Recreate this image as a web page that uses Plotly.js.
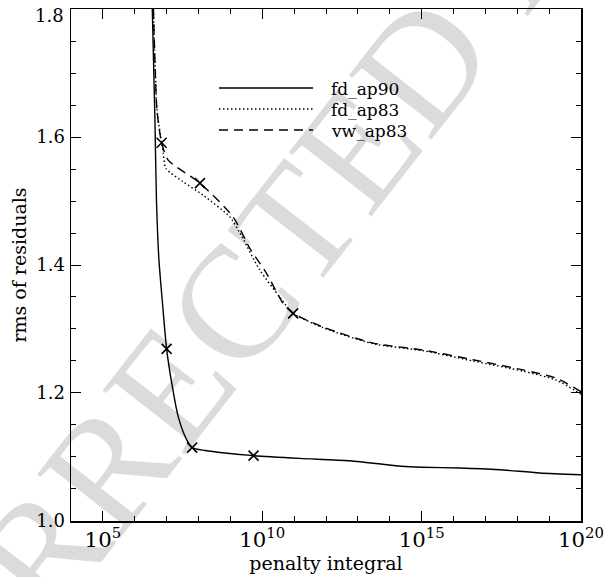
<!DOCTYPE html>
<html>
<head>
<meta charset="utf-8">
<script src="https://cdn.plot.ly/plotly-3.0.1.min.js"></script>
<style>html,body{margin:0;padding:0;background:#fff;}#chart{width:608px;height:577px;}</style>
</head>
<body>
<div id="chart"></div>
<script>
// fd_ap90 (solid)
const ap90X = [3.55e6, 4.30e6, 4.79e6, 5.74e6, 7.28e6, 1.0e7, 1.44e7, 2.31e7, 4.24e7, 6.31e7, 1.58e8, 4.69e8, 5.33e9, 1.51e11, 5.57e12, 2.33e14, 1e15, 1.58e16, 2.82e17, 5.0e18, 1e20];
const ap90Y = [1.8, 1.627, 1.502, 1.408, 1.345, 1.269, 1.216, 1.163, 1.127, 1.1145, 1.110, 1.107, 1.102, 1.0977, 1.094, 1.0855, 1.084, 1.0828, 1.080, 1.075, 1.0723];
// fd_ap83 (dotted)
const fd83X = [3.85e6, 4.30e6, 5.01e6, 6.97e6, 7.83e6, 9.51e6, 3.31e7, 1.40e8, 9.64e8, 1.99e9, 8.41e9, 3.56e10, 9.12e10, 8.11e11, 3.0e13, 1.11e15, 4.08e16, 1.51e18, 1.68e19, 1e20];
const fd83Y = [1.8, 1.72, 1.642, 1.591, 1.574, 1.551, 1.530, 1.509, 1.475, 1.450, 1.392, 1.350, 1.325, 1.302, 1.277, 1.266, 1.250, 1.234, 1.220, 1.198];
// vw_ap83 (dashed)
const vw83X = [3.85e6, 4.30e6, 4.97e6, 6.97e6, 1.12e7, 1.11e8, 1.22e9, 4.08e9, 1.36e10, 4.52e10, 9.31e10, 8.11e11, 3.0e13, 1.11e15, 4.08e16, 1.51e18, 1.68e19, 1e20];
const vw83Y = [1.8, 1.72, 1.642, 1.591, 1.564, 1.528, 1.475, 1.426, 1.387, 1.340, 1.3245, 1.303, 1.278, 1.267, 1.252, 1.236, 1.223, 1.202];
// cross markers
const markAp90X = [1.0e7, 6.31e7, 5.33e9];
const markAp90Y = [1.269, 1.1145, 1.102];
const markAp83X = [6.97e6, 1.11e8, 9.31e10];
const markAp83Y = [1.591, 1.528, 1.3245];

// y tick labels (top one drawn separately, nudged inside the page like the reference)
const yTickVals = [1.0, 1.2, 1.4, 1.6, 1.8];
const yTickText = ['1.0', '1.2', '1.4', '1.6', '1.8'];

const seriesNames = ['fd_ap90', 'fd_ap83', 'vw_ap83'];
const seriesDash = ['solid', '1.5px,2.5px', '9px,6px'];
const xTitle = 'penalty integral';
const yTitle = 'rms of residuals';
const watermark = 'CORRECTED PROOF';

const FONT = 'DejaVu Serif, serif';
const LW = 1.4;

const traces = [
  {x: ap90X, y: ap90Y, name: seriesNames[0], mode: 'lines', line: {color: '#000', width: LW, dash: seriesDash[0], shape: 'spline', smoothing: 0.7}},
  {x: fd83X, y: fd83Y, name: seriesNames[1], mode: 'lines', line: {color: '#000', width: LW, dash: seriesDash[1], shape: 'spline', smoothing: 0.7}},
  {x: vw83X, y: vw83Y, name: seriesNames[2], mode: 'lines', line: {color: '#000', width: LW, dash: seriesDash[2], shape: 'spline', smoothing: 0.7}},
  {x: markAp90X, y: markAp90Y, mode: 'markers', hoverinfo: 'skip',
   marker: {symbol: 'x-thin-open', size: 10, color: '#000', line: {color: '#000', width: 1.6}}},
  {x: markAp83X, y: markAp83Y, mode: 'markers', hoverinfo: 'skip',
   marker: {symbol: 'x-thin-open', size: 10, color: '#000', line: {color: '#000', width: 1.6}}}
];

const axisCommon = {
  showgrid: false, zeroline: false, showline: true, linecolor: '#000', linewidth: 1.5,
  ticks: 'inside', ticklen: 10, tickwidth: 1, tickcolor: '#000', mirror: 'ticks'
};

// manual legend (line samples + labels), positioned in paper fractions
const legendRowY = [0.8457, 0.8047, 0.7637];
const shapes = seriesNames.map((n, i) => ({
  type: 'line', xref: 'paper', yref: 'paper', x0: 0.2902, x1: 0.4745, y0: legendRowY[i], y1: legendRowY[i],
  line: {color: '#000', width: LW, dash: seriesDash[i]}
}));
const annotations = seriesNames.map((n, i) => ({
  text: n, xref: 'paper', yref: 'paper', x: 0.506, y: legendRowY[i] - 0.002,
  xanchor: 'left', yanchor: 'middle', showarrow: false,
  font: {family: FONT, size: 17, color: '#000'}
}));
// top y tick label, shifted down so it stays on the page
annotations.push({
  text: yTickText[4], xref: 'paper', yref: 'y', x: 0, y: yTickVals[4],
  xanchor: 'right', yanchor: 'middle', xshift: -5, yshift: -6, showarrow: false,
  font: {family: FONT, size: 18, color: '#000'}
});
annotations.push({
  text: watermark, xref: 'paper', yref: 'paper', x: 0.518, y: 0.676,
  xanchor: 'center', yanchor: 'middle',
  showarrow: false, textangle: -52,
  font: {family: 'Liberation Serif, serif', size: 160, color: 'rgba(0,0,0,0.14)'}
});

const layout = {
  width: 608, height: 577,
  margin: {l: 71, r: 27, t: 9, b: 56},
  paper_bgcolor: '#fff', plot_bgcolor: '#fff',
  font: {family: FONT, color: '#000'},
  showlegend: false,
  xaxis: Object.assign({}, axisCommon, {
    type: 'log', range: [4, 20.0001], dtick: 5, exponentformat: 'power',
    tickfont: {family: FONT, size: 17, color: '#000'},
    minor: {dtick: 1, ticks: 'inside', ticklen: 5, tickcolor: '#000', tickwidth: 1},
    title: {text: xTitle, font: {family: FONT, size: 19, color: '#000'}, standoff: 4}
  }),
  yaxis: Object.assign({}, axisCommon, {
    range: [0.9999, 1.8001], tickmode: 'array', tickvals: yTickVals,
    ticktext: yTickText.slice(0, 4).concat(['']), ticklabelstandoff: 1,
    tickfont: {family: FONT, size: 18, color: '#000'},
    minor: {dtick: 0.05, ticks: 'inside', ticklen: 5, tickcolor: '#000', tickwidth: 1},
    title: {text: yTitle, font: {family: FONT, size: 19, color: '#000'}, standoff: 4}
  }),
  shapes: shapes,
  annotations: annotations
};

Plotly.newPlot('chart', traces, layout, {displayModeBar: false, staticPlot: true});
</script>
</body>
</html>
